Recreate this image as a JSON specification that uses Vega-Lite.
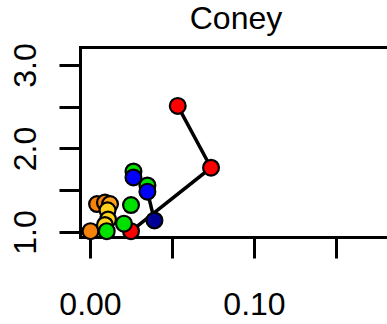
{
  "$schema": "https://vega.github.io/schema/vega-lite/v6.json",
  "width": 307,
  "height": 190,
  "autosize": "none",
  "padding": {"left": 80, "top": 47, "right": 0, "bottom": 87},
  "background": "white",
  "title": {"text": "Coney", "font": "Liberation Sans", "fontSize": 32, "fontWeight": "normal", "color": "black", "anchor": "middle", "dx": 2.5, "baseline": "alphabetic", "offset": -18},
  "config": {"view": {"stroke": null}},
  "data": {"values": [
    {"x": 0.0535, "y": 2.51, "c": "red", "g": "A", "o": 1},
    {"x": 0.0738, "y": 1.77, "c": "red", "g": "A", "o": 2},
    {"x": 0.025, "y": 1.01, "c": "red", "g": "A", "o": 3},
    {"x": 0.0003, "y": 1.01, "c": "darkorange"},
    {"x": 0.0043, "y": 1.335, "c": "darkorange"},
    {"x": 0.0091, "y": 1.353, "c": "darkorange"},
    {"x": 0.0122, "y": 1.335, "c": "orange"},
    {"x": 0.0107, "y": 1.26, "c": "gold"},
    {"x": 0.011, "y": 1.15, "c": "gold"},
    {"x": 0.0091, "y": 1.084, "c": "gold"},
    {"x": 0.0102, "y": 1.01, "c": "green"},
    {"x": 0.0207, "y": 1.1, "c": "green"},
    {"x": 0.025, "y": 1.323, "c": "green"},
    {"x": 0.0265, "y": 1.725, "c": "green"},
    {"x": 0.035, "y": 1.557, "c": "green"},
    {"x": 0.0265, "y": 1.653, "c": "blue"},
    {"x": 0.035, "y": 1.483, "c": "blue", "g": "B", "o": 1},
    {"x": 0.0393, "y": 1.138, "c": "navy", "g": "B", "o": 2}
  ]},
  "layer": [
    {
      "transform": [{"filter": "isValid(datum.g)"}],
      "mark": {"type": "line", "color": "black", "strokeWidth": 3.5},
      "encoding": {
        "x": {"field": "x", "type": "quantitative", "scale": {"domain": [-0.0061, 0.1811], "nice": false, "zero": false},
          "axis": {"orient": "bottom", "title": null, "grid": false, "values": [0, 0.05, 0.1, 0.15],
            "labelExpr": "round(datum.value*100) % 10 == 0 ? format(datum.value, '.2f') : ''",
            "tickSize": 21, "tickWidth": 3, "tickColor": "black", "domainColor": "black", "domainWidth": 3, "domainCap": "square",
            "labelFont": "Liberation Sans", "labelFontSize": 32, "labelColor": "black", "labelBaseline": "alphabetic", "labelPadding": 56,
            "labelOverlap": false, "labelFlush": false, "labelBound": false}},
        "y": {"field": "y", "type": "quantitative", "scale": {"domain": [0.94, 3.2156], "nice": false, "zero": false},
          "axis": {"title": null, "grid": false, "values": [1, 1.5, 2, 2.5, 3],
            "labelExpr": "round(datum.value*10) % 10 == 0 ? format(datum.value, '.1f') : ''",
            "tickSize": 21, "tickWidth": 3, "tickColor": "black", "domainColor": "black", "domainWidth": 3, "domainCap": "square",
            "labelFont": "Liberation Sans", "labelFontSize": 32, "labelColor": "black", "labelAngle": 270, "labelAlign": "center", "labelBaseline": "alphabetic", "labelPadding": 24,
            "labelOverlap": false, "labelFlush": false, "labelBound": false}},
        "detail": {"field": "g"},
        "order": {"field": "o"}
      }
    },
    {
      "mark": {"type": "point", "filled": true, "shape": "circle", "size": 250, "stroke": "black", "strokeWidth": 2.2, "opacity": 1},
      "encoding": {
        "x": {"field": "x", "type": "quantitative",
          "axis": {"orient": "top", "title": null, "grid": false, "ticks": false, "labels": false, "domainColor": "black", "domainWidth": 3, "domainCap": "square"}},
        "y": {"field": "y", "type": "quantitative"},
        "fill": {"field": "c", "type": "nominal", "legend": null,
          "scale": {"domain": ["red", "darkorange", "orange", "gold", "green", "blue", "navy"],
                    "range": ["#FF0000", "#F5820A", "#FFA01E", "#FFD21E", "#00E100", "#0000FF", "#000096"]}}
      }
    }
  ],
  "resolve": {"axis": {"x": "independent"}}
}
